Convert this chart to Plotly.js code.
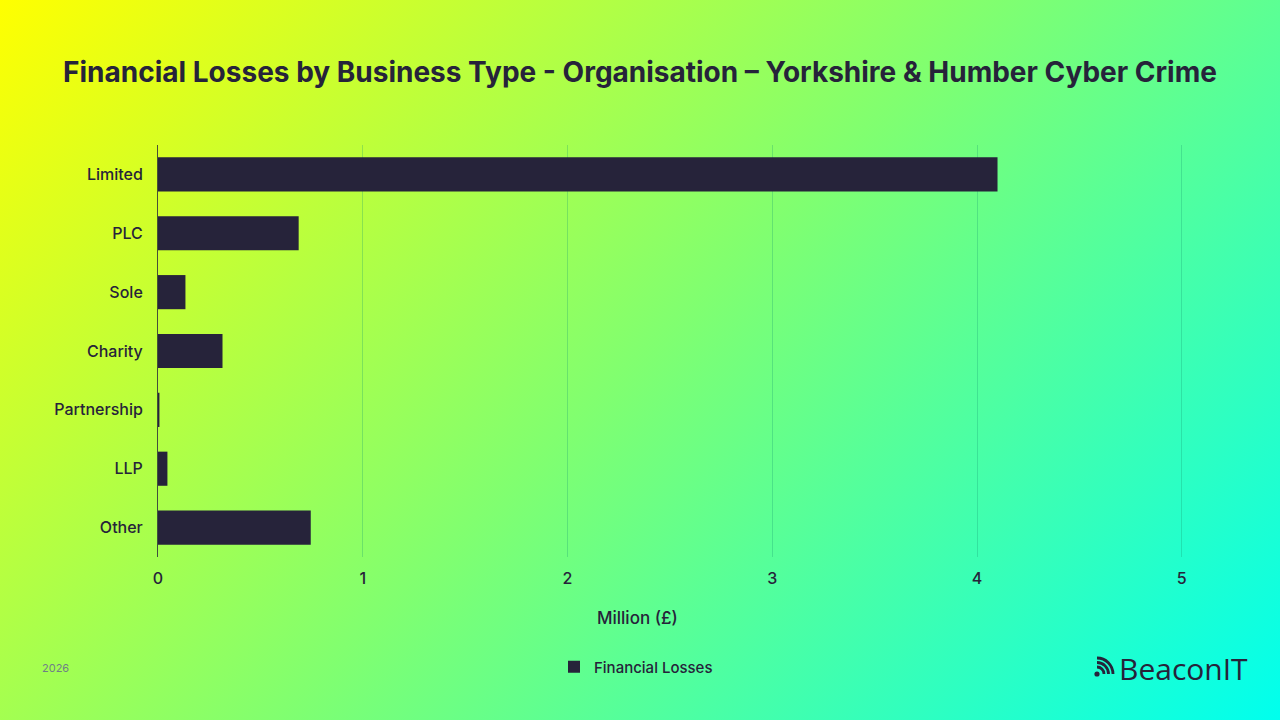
<!DOCTYPE html>
<html>
<head>
<meta charset="utf-8">
<script src="https://cdn.plot.ly/plotly-3.0.1.min.js"></script>
<style>
  html, body { margin: 0; padding: 0; }
  body {
    width: 1280px; height: 720px; overflow: hidden;
    background: linear-gradient(135deg, #ffff00 0%, #80ff70 50%, #00ffee 100%);
  }
  #chart { width: 1280px; height: 720px; }
</style>
</head>
<body>
<div id="chart"></div>
<script>
// Financial losses by business type, in millions of pounds
const businessTypes = ["Limited", "PLC", "Sole", "Charity", "Partnership", "LLP", "Other"];
const lossesMillions = [4.1, 0.687, 0.134, 0.315, 0.007, 0.046, 0.746];
const xTickValues = [0, 1, 2, 3, 4, 5];

const INK = "#26233a";
const FONT = "Inter, 'DejaVu Sans', sans-serif";

const W = 1280, H = 720;
const margin = { l: 158, r: 47, t: 145, b: 163, pad: 0 };
const plotW = W - margin.l - margin.r;
const plotH = H - margin.t - margin.b;

// pixel position on the page -> paper coordinates
function px(x) { return (x - margin.l) / plotW; }
function py(y) { return (H - margin.b - y) / plotH; }

const trace = {
    type: "bar",
    orientation: "h",
    name: "Financial Losses",
    y: businessTypes,
    x: lossesMillions,
    marker: { color: INK },
    hovertemplate: "%{y}: £%{x:.2f}m<extra></extra>",
};

// BeaconIT mark: dot plus three quarter arcs (rss style)
function arc(r) {
    const k = 0.5523 * r;
    return `M 0 ${r} C ${k} ${r} ${r} ${k} ${r} 0`;
}
const logoX = px(1097), logoY = py(674);
const logoShapes = [
    {
        type: "circle", xref: "paper", yref: "paper",
        xsizemode: "pixel", ysizemode: "pixel", xanchor: logoX, yanchor: logoY,
        x0: -2.6, x1: 2.6, y0: -2.6, y1: 2.6,
        fillcolor: INK, line: { width: 0 },
    },
    ...[7, 11.5, 16].map(r => ({
        type: "path", xref: "paper", yref: "paper",
        xsizemode: "pixel", ysizemode: "pixel", xanchor: logoX, yanchor: logoY,
        path: arc(r),
        line: { color: INK, width: 2.8 },
    })),
];

const layout = {
    width: W,
    height: H,
    paper_bgcolor: "rgba(0,0,0,0)",
    plot_bgcolor: "rgba(0,0,0,0)",
    margin,
    font: { family: FONT, color: INK, size: 15 },
    title: {
        text: "<b>Financial Losses by Business Type - Organisation – Yorkshire & Humber Cyber Crime</b>",
        font: { family: FONT, size: 28, color: INK, weight: 700 },
        x: 0.5, xanchor: "center",
        y: 1 - 72 / H, yanchor: "middle",
        xref: "container", yref: "container",
    },
    bargap: 0.42,
    xaxis: {
        range: [0, 5.25],
        tickvals: xTickValues,
        showgrid: true,
        gridcolor: "rgba(20,150,110,0.28)",
        gridwidth: 1,
        zeroline: false,
        showline: false,
        ticks: "outside",
        ticklen: 7,
        tickcolor: "rgba(0,0,0,0)",
        tickfont: { family: FONT, size: 16, color: INK, weight: 500 },
        fixedrange: true,
    },
    yaxis: {
        categoryorder: "array",
        categoryarray: businessTypes,
        autorange: "reversed",
        showgrid: false,
        zeroline: false,
        showline: true,
        linecolor: "rgba(38,35,58,0.8)",
        linewidth: 1,
        ticks: "outside",
        ticklen: 11,
        tickcolor: "rgba(0,0,0,0)",
        tickfont: { family: FONT, size: 16, color: INK, weight: 500 },
        fixedrange: true,
    },
    showlegend: true,
    legend: {
        orientation: "h",
        x: px(636),
        xanchor: "center",
        y: py(667),
        yanchor: "middle",
        bgcolor: "rgba(0,0,0,0)",
        font: { family: FONT, size: 15, color: INK, weight: 500 },
        itemwidth: 30,
    },
    annotations: [
        {
            text: "Million (£)",
            xref: "paper", yref: "paper",
            x: px(637), y: py(618),
            xanchor: "center", yanchor: "middle",
            showarrow: false,
            font: { family: FONT, size: 17, color: INK, weight: 500 },
        },
        {
            text: "2026",
            xref: "paper", yref: "paper",
            x: px(40), y: py(668),
            xanchor: "left", yanchor: "middle",
            showarrow: false,
            font: { family: FONT, size: 11, color: "#6f7f86" },
        },
        {
            text: "BeaconIT",
            xref: "paper", yref: "paper",
            x: px(1117), y: py(668),
            xanchor: "left", yanchor: "middle",
            showarrow: false,
            font: { family: "'Open Sans', sans-serif", size: 30, color: INK, weight: 500 },
        },
    ],
    shapes: logoShapes,
};

Plotly.newPlot("chart", [trace], layout, { displayModeBar: false, staticPlot: true });
</script>
</body>
</html>
